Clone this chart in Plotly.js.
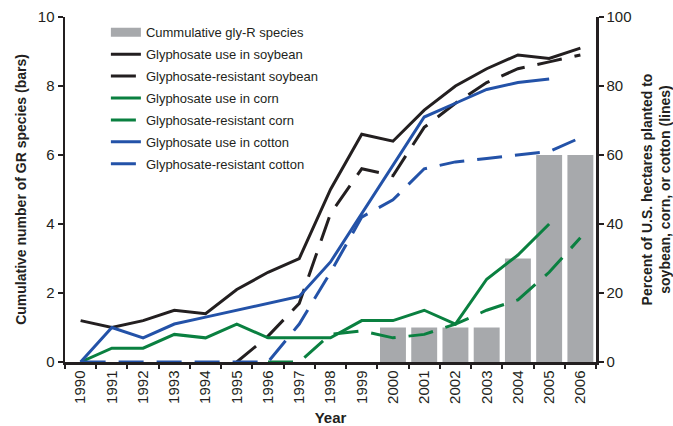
<!DOCTYPE html>
<html>
<head>
<meta charset="utf-8">
<script src="https://cdn.plot.ly/plotly-3.0.1.min.js"></script>
<style>html,body{margin:0;padding:0;background:#fff;}#chart{width:673px;height:426px;}</style>
</head>
<body>
<div id="chart"></div>
<script>
var years = ["1990","1991","1992","1993","1994","1995","1996","1997","1998","1999","2000","2001","2002","2003","2004","2005","2006"];
var grSpecies = [null,null,null,null,null,null,null,null,null,null,1,1,1,1,3,6,6];
var soyUse = [12,10,12,15,14,21,26,30,50,66,64,73,80,85,89,88,91];
var soyGR = [null,null,null,null,null,0,7.5,17,43,56,54,68,75,81,85,87,89];
var cornUse = [0,4,4,8,7,11,7,7,7,12,12,15,11,24,31,40,null];
var cornGR = [null,null,null,null,null,null,0,0,8,9,7,8,11,15,18,26,36];
var cottonUse = [0,10,7,11,13,15,17,19,29,43,57,71,75,79,81,82,null];
var cottonGR = [0,0,0,0,0,0,0,11,26,42,47,56,58,59,60,61,65];

var BLACK = "#231f20", GREEN = "#0a8040", BLUE = "#2352a8", GRAY = "#a7a9ac";
var FONT = "Liberation Sans, Arial, sans-serif";
var DASH = "25px,13px";

function line(name, y, color, dash, g) {
  return {type: "scatter", mode: "lines", name: name, x: years, y: y, yaxis: "y2",
    legendgroup: g, connectgaps: false,
    line: {color: color, width: 3, dash: dash || "solid"}};
}

var data = [
  {type: "bar", name: "Cummulative gly-R species", x: years, y: grSpecies,
   marker: {color: GRAY}, legendgroup: "g0", showlegend: false},
  // legend key for the bars, drawn as a wide gray band like the original
  {type: "scatter", mode: "lines", name: "Cummulative gly-R species", x: [years[0]], y: [null],
   line: {color: GRAY, width: 9}, legendgroup: "g0", showlegend: true},
  line("Glyphosate use in soybean", soyUse, BLACK, null, "g1"),
  line("Glyphosate-resistant soybean", soyGR, BLACK, DASH, "g2"),
  line("Glyphosate use in corn", cornUse, GREEN, null, "g3"),
  line("Glyphosate-resistant corn", cornGR, GREEN, DASH, "g4"),
  line("Glyphosate use in cotton", cottonUse, BLUE, null, "g5"),
  line("Glyphosate-resistant cotton", cottonGR, BLUE, DASH, "g6")
];

var layout = {
  width: 673, height: 426,
  margin: {l: 65, r: 77, t: 17, b: 64},
  paper_bgcolor: "#fff", plot_bgcolor: "#fff",
  font: {family: FONT, color: BLACK, size: 15},
  bargap: 0.17,
  showlegend: true,
  legend: {x: 0.077, y: 0.999, xanchor: "left", yanchor: "top",
    bgcolor: "rgba(0,0,0,0)", font: {size: 13, family: FONT, color: BLACK},
    tracegroupgap: 2, traceorder: "grouped"},
  xaxis: {type: "category", categoryorder: "array", categoryarray: years,
    range: [-0.5, 16.5], tickson: "boundaries", ticks: "outside", ticklen: 4,
    tickwidth: 2, tickcolor: BLACK, showline: true, linewidth: 2.5, linecolor: BLACK,
    tickangle: -90, tickfont: {size: 15}, showgrid: false, zeroline: false,
    title: {text: "<b>Year</b>", font: {size: 15}, standoff: 10}},
  yaxis: {range: [0, 10], dtick: 2, ticks: "outside", ticklen: 5, tickwidth: 2,
    tickcolor: BLACK, showline: true, linewidth: 2.5, linecolor: BLACK,
    showgrid: false, zeroline: false, tickfont: {size: 15},
    title: {text: "<b>Cumulative number of GR species (bars)</b>", font: {size: 14}, standoff: 8}},
  yaxis2: {overlaying: "y", side: "right", range: [0, 100], dtick: 20, ticks: "outside",
    ticklen: 5, tickwidth: 2, tickcolor: BLACK, showline: true, linewidth: 2.5,
    linecolor: BLACK, showgrid: false, zeroline: false, tickfont: {size: 15},
    title: {text: "<b>Percent of U.S. hectares planted to<br>soybean, corn, or cotton (lines)</b>", font: {size: 14}, standoff: 14}},
  yaxis3: {overlaying: "y", side: "left", range: [0, 10], dtick: 2, ticks: "inside",
    ticklen: 5, tickwidth: 2, tickcolor: BLACK, showticklabels: false, showgrid: false,
    zeroline: false, showline: false},
  yaxis4: {overlaying: "y", side: "right", range: [0, 100], dtick: 20, ticks: "inside",
    ticklen: 5, tickwidth: 2, tickcolor: BLACK, showticklabels: false, showgrid: false,
    zeroline: false, showline: false},
  xaxis2: {overlaying: "x", side: "bottom", anchor: "y", range: [-0.5, 16.5],
    tickmode: "linear", tick0: -0.5, dtick: 1, ticks: "inside", ticklen: 4,
    tickwidth: 2, tickcolor: BLACK, showticklabels: false, showgrid: false,
    zeroline: false, showline: false}
};

Plotly.newPlot("chart", data, layout, {staticPlot: true, displayModeBar: false});
</script>
</body>
</html>
